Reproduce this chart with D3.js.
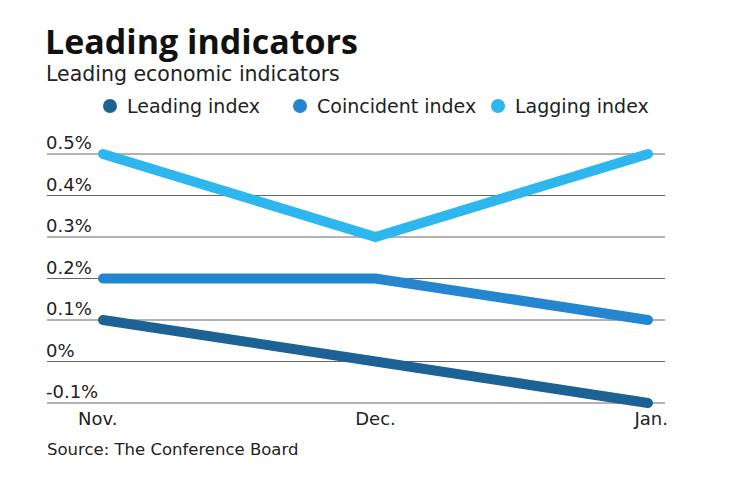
<!DOCTYPE html>
<html><head><meta charset="utf-8">
<script src="https://cdn.jsdelivr.net/npm/d3@7"></script>
<style>body{margin:0;background:#fff}text{font-family:"DejaVu Sans",sans-serif}</style>
</head><body><svg id="c" width="740" height="482"></svg>
<script>
const categories=["Nov.","Dec.","Jan."];
const leading=[0.1,0.0,-0.1];
const coincident=[0.2,0.2,0.1];
const lagging=[0.5,0.3,0.5];
const yTicks=[-0.1,0,0.1,0.2,0.3,0.4,0.5];
const tickLabels=["-0.1%","0%","0.1%","0.2%","0.3%","0.4%","0.5%"];
const seriesNames=["Leading index","Coincident index","Lagging index"];
const colors=["#1d6294","#2486d1","#2eb6ee"];
const svg=d3.select("#c");
svg.append("text").attr("x",45).attr("y",54).style("font-family","'Open Sans'").attr("font-size",34).attr("font-weight",700).attr("fill","#111").text("Leading indicators");
svg.append("text").attr("x",46).attr("y",81).attr("font-size",20.5).attr("fill","#222").text("Leading economic indicators");
const lx=[110,300,498];
seriesNames.forEach((n,i)=>{
 svg.append("circle").attr("cx",lx[i]).attr("cy",106).attr("r",7).attr("fill",colors[i]);
 svg.append("text").attr("x",lx[i]+17).attr("y",113).attr("font-size",19).attr("fill","#222").text(n);
});
const x=d3.scalePoint().domain(categories).range([103,648]);
const y=d3.scaleLinear().domain([-0.1,0.5]).range([403,154]);
yTicks.forEach((t,i)=>{
 svg.append("line").attr("x1",47).attr("x2",665).attr("y1",y(t)).attr("y2",y(t)).attr("stroke","#666").attr("stroke-width",1);
 svg.append("text").attr("x",46).attr("y",y(t)-5).attr("font-size",18).attr("fill","#222").text(tickLabels[i]);
});
categories.forEach((c,i)=>{
 const a=i==0?"start":i==2?"end":"middle";
 const xx=i==0?78:i==2?668:x(c);
 svg.append("text").attr("x",xx).attr("y",425).attr("text-anchor",a).attr("font-size",18).attr("fill","#222").text(c);
});
const line=d3.line().x((d,i)=>x(categories[i])).y(d=>y(d));
[leading,coincident,lagging].forEach((s,i)=>{
 svg.append("path").attr("d",line(s)).attr("fill","none").attr("stroke",colors[i]).attr("stroke-width",10).attr("stroke-linejoin","miter").attr("stroke-linecap","round");
});
svg.append("text").attr("x",47).attr("y",455).attr("font-size",16.5).attr("fill","#222").text("Source: The Conference Board");
</script></body></html>
